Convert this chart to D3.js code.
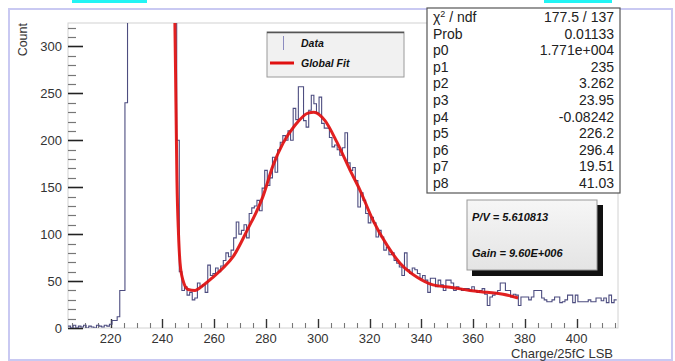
<!DOCTYPE html>
<html><head><meta charset="utf-8">
<script src="https://cdn.jsdelivr.net/npm/d3@7"></script>
<style>
html,body{margin:0;padding:0;background:#fff;}
svg{display:block;font-family:"Liberation Sans",Arial,Helvetica,sans-serif;}
</style></head>
<body>
<svg id="c" width="675" height="361"></svg>
<script>
// ---- data ----
const binStart = 204; // first bin centre, bin width 1
const counts = [
 2,0,3,0,2,1,3,0,2,1,
 0,3,2,1,3,2,4,8,8,12,
 40,40,240,1850,3900,5200,4600,3100,1900,1250,
 980,820,760,700,650,610,560,520,480,430,
 380,340,200,60,40,44,35,38,30,32,
 48,44,46,38,67,56,58,64,60,66,
 72,80,76,83,96,113,100,104,110,96,
 122,128,130,136,125,149,168,152,160,182,
 166,190,198,205,200,210,200,234,222,257,
 257,221,214,232,248,239,229,246,218,213,
 213,203,193,195,190,184,192,208,176,168,
 171,157,129,144,136,122,112,118,112,97,
 104,97,83,86,78,80,72,69,65,56,
 80,62,58,64,62,58,53,56,51,38,
 53,53,44,51,46,40,51,51,48,40,
 44,42,40,42,42,40,44,40,38,40,
 42,36,24,33,35,37,40,48,48,40,
 40,33,36,35,24,33,33,33,30,33,
 40,40,40,32,30,28,28,30,33,33,
 27,28,30,35,35,27,35,28,28,28,
 28,30,28,28,32,32,29,32,27,35,
 27,30
];
const fitX = [244.6,244.8,245.2,245.6,246.2,246.8,247.9,249.9,252.6,254.5,259.5,263.4,267.3,272.7,278.8,282.7,286.6,291.2,296.2,298.5,302.8,307.4,312.5,316.3,321.3,326.8,331.8,338.4,344.5,352.3,358.8,365.4,371.6,377.4];
const fitY = [345,325,240,157,100,69,51,41,40,43,54,64,76,104,140,173,197,216,229,230,221,198,168,147,115,88,69,54,46,43,40,38,36,32];
const xTicks = [220,240,260,280,300,320,340,360,380,400];
const yTicks = [0,50,100,150,200,250,300];
const statLabels = ["χ2 / ndf","Prob","p0","p1","p2","p3","p4","p5","p6","p7","p8"];
const statValues = ["177.5 / 137","0.01133","1.771e+004","235","3.262","23.95","-0.08242","226.2","296.4","19.51","41.03"];
const legendLabels = ["Data","Global Fit"];
const infoLines = ["P/V = 5.610813","Gain = 9.60E+006"];
const xTitle = "Charge/25fC LSB";
const yTitle = "Count";

// ---- layout ----
const svg = d3.select("#c");
const L=68,R=618,T=23,B=328;
const x = d3.scaleLinear().domain([203.5,416]).range([L,R]);
const y = d3.scaleLinear().domain([0,325]).range([B,T]);

// outer frame & cyan marks
svg.append("rect").attr("x",9).attr("y",9).attr("width",663).attr("height",351)
  .attr("fill","none").attr("stroke","#c9c9f2").attr("stroke-width",2);
svg.append("rect").attr("x",72).attr("y",0).attr("width",75).attr("height",3).attr("fill","#22f4f4");
svg.append("rect").attr("x",544).attr("y",0).attr("width",68).attr("height",3).attr("fill","#22f4f4");

// plot frame
svg.append("rect").attr("x",L).attr("y",T).attr("width",R-L).attr("height",B-T)
  .attr("fill","none").attr("stroke","#d2d2d2").attr("stroke-width",1);

svg.append("clipPath").attr("id","pc").append("rect")
  .attr("x",L).attr("y",T).attr("width",R-L).attr("height",B-T);

// y axis ticks (inside)
const yMinor = d3.range(0,321,10);
svg.append("g").selectAll("line").data(yMinor).join("line")
  .attr("x1",L).attr("x2",d=>d%50===0?L+15:L+8)
  .attr("y1",d=>Math.round(y(d))+0.5).attr("y2",d=>Math.round(y(d))+0.5)
  .attr("stroke",d=>d%50===0?"#222":"#777").attr("stroke-width",d=>d%50===0?1.6:1.2);
svg.append("g").selectAll("text").data(yTicks).join("text")
  .attr("x",62).attr("y",d=>y(d)+4.5).attr("text-anchor","end")
  .attr("font-size",13).attr("fill","#333").text(d=>d);
svg.append("text").attr("transform",`translate(27,${T}) rotate(-90)`)
  .attr("text-anchor","end").attr("font-size",12.5).attr("fill","#333").text(yTitle);

// x axis ticks (inside, upward)
const xMinor = d3.range(205,416,5);
svg.append("g").selectAll("line").data(xMinor).join("line")
  .attr("x1",d=>Math.round(x(d))+0.5).attr("x2",d=>Math.round(x(d))+0.5)
  .attr("y1",B).attr("y2",d=>d%20===0?B-9:B-5)
  .attr("stroke",d=>d%20===0?"#333":"#777").attr("stroke-width",d=>d%20===0?1.4:1.1);
svg.append("g").selectAll("text").data(xTicks).join("text")
  .attr("x",d=>x(d)).attr("y",343).attr("text-anchor","middle")
  .attr("font-size",13).attr("fill","#333").text(d=>d);
svg.append("text").attr("x",R-5).attr("y",358).attr("text-anchor","end")
  .attr("font-size",13).attr("fill","#333").text(xTitle);

// histogram
const pts = counts.map((c,i)=>[binStart+i-0.5,c]);
pts.push([binStart+counts.length-0.5,counts[counts.length-1]]);
const hline = d3.line().x(d=>x(d[0])).y(d=>y(Math.min(d[1],340))).curve(d3.curveStepAfter);
const g = svg.append("g").attr("clip-path","url(#pc)");
g.append("path").attr("d",hline(pts)).attr("fill","none")
  .attr("stroke","#4d4d80").attr("stroke-width",1.1);

// fit
const fpts = fitX.map((v,i)=>[v,fitY[i]]);
g.append("path").attr("d",d3.line().x(d=>x(d[0])).y(d=>y(d[1])).curve(d3.curveMonotoneX)(fpts))
  .attr("fill","none").attr("stroke","#e01010").attr("stroke-width",3).attr("stroke-opacity",0.93);

// legend
const lg = svg.append("g");
lg.append("rect").attr("x",267).attr("y",32).attr("width",137).attr("height",45)
  .attr("fill","#f1f1f1").attr("stroke","#9a9a9a").attr("stroke-width",1);
lg.append("line").attr("x1",267).attr("x2",404).attr("y1",32.5).attr("y2",32.5).attr("stroke","#555").attr("stroke-width",1.5);
lg.append("line").attr("x1",283.5).attr("x2",283.5).attr("y1",36).attr("y2",50).attr("stroke","#8c8cc0").attr("stroke-width",1);
lg.append("line").attr("x1",270).attr("x2",294).attr("y1",63).attr("y2",63).attr("stroke","#e01010").attr("stroke-width",3);
lg.selectAll("text.l").data(legendLabels).join("text")
  .attr("x",301).attr("y",(d,i)=>i===0?47:67).attr("font-size",10.5)
  .attr("font-weight","bold").attr("font-style","italic").attr("fill","#111").text(d=>d);

// stats box
const sb = svg.append("g");
sb.append("rect").attr("x",427).attr("y",8).attr("width",193).attr("height",185)
  .attr("fill","#fff").attr("stroke","#555").attr("stroke-width",1.2);
statLabels.forEach((s,i)=>{
  const ty = 22 + i*16.6;
  const t = sb.append("text").attr("x",433).attr("y",ty).attr("font-size",14).attr("fill","#222");
  if(i===0){
    t.append("tspan").text("χ");
    t.append("tspan").attr("dy",-5).attr("font-size",9).text("2");
    t.append("tspan").attr("dy",5).text(" / ndf");
  } else t.text(s);
  sb.append("text").attr("x",614).attr("y",ty).attr("text-anchor","end")
    .attr("font-size",14).attr("fill","#222").text(statValues[i]);
});

// P/V box with shadow
const pv = svg.append("g");
pv.append("rect").attr("x",472).attr("y",205).attr("width",131).attr("height",71).attr("fill","#111");
const grad = svg.append("defs").append("linearGradient").attr("id","pvg").attr("x1",0).attr("x2",0).attr("y1",0).attr("y2",1);
grad.append("stop").attr("offset",0).attr("stop-color","#f6f6f6");
grad.append("stop").attr("offset",1).attr("stop-color","#e4e4e4");
pv.append("rect").attr("x",467).attr("y",200).attr("width",130).attr("height",70)
  .attr("fill","url(#pvg)").attr("stroke","#999").attr("stroke-width",1);
pv.selectAll("text").data(infoLines).join("text")
  .attr("x",472).attr("y",(d,i)=>221+i*36).attr("font-size",11)
  .attr("font-weight","bold").attr("font-style","italic").attr("fill","#111").text(d=>d);
</script>
</body></html>
